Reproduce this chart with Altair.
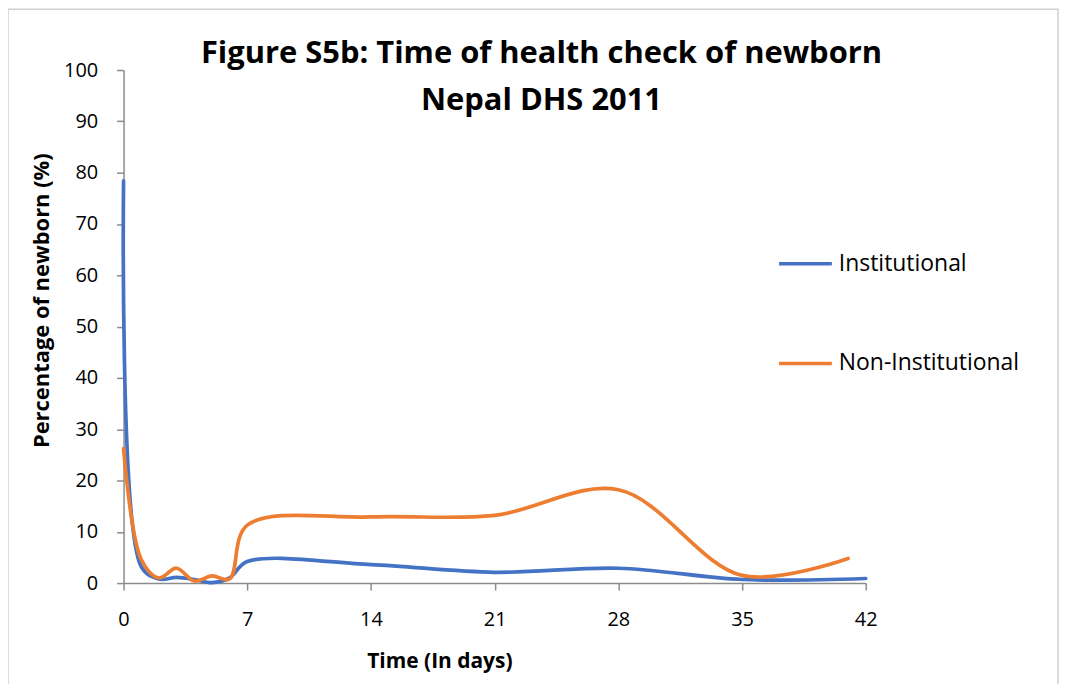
import altair as alt
import pandas as pd

# Institutional (blue)
inst_days = [0, 1, 2, 3, 4, 5, 6, 7, 14, 21, 28, 35, 42]
inst_vals = [78.4, 3.2, 0.8, 1.1, 0.7, 0.1, 1.0, 4.2, 3.6, 2.1, 2.9, 0.7, 0.9]

# Non-Institutional (orange)
non_days = [0, 1, 2, 3, 4, 5, 6, 7, 14, 21, 28, 35, 41]
non_vals = [26.2, 4.6, 1.0, 2.9, 0.4, 1.4, 0.8, 11.3, 12.9, 13.2, 18.2, 1.5, 4.8]

series_names = ["Institutional", "Non-Institutional"]
series_colors = ["#4472C4", "#ED7D31"]

x_ticks = [0, 7, 14, 21, 28, 35, 42]
y_ticks = [0, 10, 20, 30, 40, 50, 60, 70, 80, 90, 100]

df = pd.concat([
    pd.DataFrame({"day": inst_days, "pct": inst_vals, "series": series_names[0]}),
    pd.DataFrame({"day": non_days, "pct": non_vals, "series": series_names[1]}),
])

FONT = "Open Sans"
AXIS_COLOR = "#8c8c8c"

lines = alt.Chart(df).mark_line(
    interpolate="catmull-rom", strokeWidth=3.7, strokeCap="round"
).encode(
    x=alt.X("day:Q", scale=alt.Scale(domain=[0, 42], nice=False, zero=False),
            axis=alt.Axis(values=x_ticks, title="Time (In days)", grid=False,
                          labelPadding=20, titleFontSize=21, labelFlush=False,
                          titleX=317, titleY=85, titleAnchor="middle",
                          titleAlign="center", titleBaseline="alphabetic")),
    y=alt.Y("pct:Q", scale=alt.Scale(domain=[0, 100], nice=False),
            axis=alt.Axis(values=y_ticks, title="Percentage of newborn (%)", grid=False,
                          labelPadding=19, titleFontSize=22, labelFlush=False,
                          titleX=-82, titleY=231, titleAlign="center",
                          titleBaseline="middle", titleAngle=-90)),
    color=alt.Color("series:N",
                    scale=alt.Scale(domain=series_names, range=series_colors),
                    legend=alt.Legend(title=None, orient="none", legendX=656, legendY=166,
                                      symbolType="stroke", symbolSize=2809,
                                      symbolStrokeWidth=3.5, rowPadding=59,
                                      labelFont=FONT, labelFontSize=23, labelLimit=400,
                                      labelColor="#000000", labelOffset=5,
                                      padding=0)),
)

border = alt.Chart(pd.DataFrame({"b": [0]})).mark_rect(
    filled=False, stroke="#d0d0d0", strokeWidth=1.5
).encode(
    x=alt.value(-116), y=alt.value(-61), x2=alt.value(938), y2=alt.value(660)
)

chart = alt.layer(border, lines).properties(
    width=745, height=515,
    autosize=alt.AutoSizeParams(type="none"),
    padding={"left": 116, "top": 61, "right": 194, "bottom": 100},
    title=alt.TitleParams(
        text=["Figure S5b: Time of health check of newborn", "Nepal DHS 2011"],
        font=FONT, fontSize=31, fontWeight="bold", color="#000000",
        anchor="middle", dx=47, dy=133, offset=0, baseline="alphabetic",
        lineHeight=47,
    ),
).configure(background="white").configure_view(stroke=None).configure_axis(
    domainColor=AXIS_COLOR, tickColor=AXIS_COLOR, domainWidth=1.5, tickWidth=1.5,
    tickSize=7, labelFont=FONT, labelFontSize=20, labelColor="#000000",
    titleFont=FONT, titleFontWeight="bold", titleColor="#000000",
)

chart.save("out.html", embed_options={"renderer": "svg", "actions": False})
